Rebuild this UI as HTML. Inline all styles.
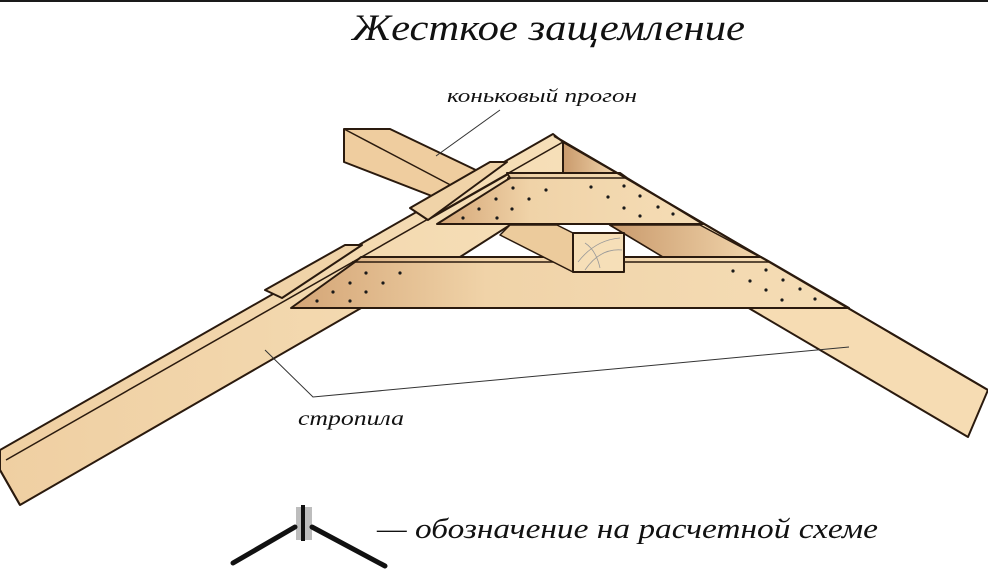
<!DOCTYPE html>
<html><head><meta charset="utf-8"><style>
html,body{margin:0;padding:0;background:#fff;}
svg{display:block;}
text{font-family:"Liberation Serif",serif;font-style:italic;fill:#111;}
</style></head><body>
<svg width="988" height="578" viewBox="0 0 988 578" xmlns="http://www.w3.org/2000/svg">
<defs>
<linearGradient id="w" x1="0" y1="0" x2="1" y2="0">
<stop offset="0" stop-color="#efcfa2"/><stop offset="1" stop-color="#f6dfb8"/></linearGradient>
<linearGradient id="dk" x1="0" y1="0" x2="1" y2="0">
<stop offset="0" stop-color="#d4a576"/><stop offset="0.35" stop-color="#f0d3a8"/><stop offset="1" stop-color="#f5ddb6"/></linearGradient>
<linearGradient id="rs" x1="0" y1="0" x2="1" y2="0">
<stop offset="0" stop-color="#c99a6c"/><stop offset="1" stop-color="#f2d6ad"/></linearGradient>
</defs>
<rect x="0" y="0" width="988" height="2" fill="#1a1a1a"/>
<g stroke="#2a1a0e" stroke-width="2" stroke-linejoin="round">
<!-- purlin upper-left -->
<polygon points="344,129 390,129 480,172 455,205 344,162" fill="#efcd9f"/>
<line x1="344" y1="129" x2="460" y2="190" stroke-width="1.5"/>
<!-- right rafter -->
<polygon points="554,136 988,390 968,437 752,310 610,225 563,173" fill="#f6dcb3"/>
<!-- peak dark triangle -->
<polygon points="563,142 617,173 563,173" fill="url(#rs)"/>
<!-- right rafter dark band between crossbars -->
<polygon points="610,225 700,225 760,257 663,257" fill="url(#rs)" stroke-width="1.5"/>
<!-- left rafter -->
<polygon points="0,450 553,134 563,142 563,173 510,225 460,257 375,300 20,505 0,470" fill="url(#w)"/>
<polyline points="6,460 563,142" fill="none" stroke-width="1.5"/>
<polyline points="0,470 20,505" fill="none"/>
<!-- upper crossbar end tabs -->
<polygon points="410,208 490,162 507,162 428,220" fill="#f0d3a8"/>
<line x1="428" y1="220" x2="507" y2="175" stroke-width="1.5"/>
<!-- upper crossbar -->
<polygon points="507,173 620,173 627,178 703,224 437,224 510,178" fill="url(#dk)"/>
<line x1="507" y1="178" x2="627" y2="178" stroke-width="1.5"/>
<!-- lower crossbar end tab -->
<polygon points="265,290 345,245 362,245 282,298" fill="#f0d3a8"/>
<!-- lower crossbar -->
<polygon points="361,257 761,257 770,262 849,308 291,308 355,262" fill="url(#dk)"/>
<line x1="352" y1="262" x2="770" y2="262" stroke-width="1.5"/>
<!-- purlin between crossbars -->
<polygon points="510,225 557,225 573,233 573,272 500,235" fill="#eccb9c" stroke-width="1.5"/>
<!-- purlin end box -->
<rect x="573" y="233" width="51" height="39" fill="#f6dfb8"/>
<!-- right rafter outer edge redraw -->
<line x1="554" y1="136" x2="988" y2="390"/>
</g>
<g fill="none" stroke="#999" stroke-width="0.8"><path d="M578,262 Q595,240 620,238"/><path d="M585,270 Q600,248 622,250"/><path d="M600,268 Q596,250 585,243"/></g>
<g fill="#1a1a1a">
<circle cx="513" cy="188" r="1.6"/><circle cx="546" cy="190" r="1.6"/><circle cx="591" cy="187" r="1.6"/><circle cx="624" cy="186" r="1.6"/>
<circle cx="496" cy="199" r="1.6"/><circle cx="529" cy="199" r="1.6"/><circle cx="608" cy="197" r="1.6"/><circle cx="640" cy="196" r="1.6"/>
<circle cx="479" cy="209" r="1.6"/><circle cx="512" cy="209" r="1.6"/><circle cx="624" cy="208" r="1.6"/><circle cx="658" cy="207" r="1.6"/>
<circle cx="463" cy="218" r="1.6"/><circle cx="497" cy="218" r="1.6"/><circle cx="640" cy="216" r="1.6"/><circle cx="673" cy="214" r="1.6"/>
<circle cx="366" cy="273" r="1.6"/><circle cx="400" cy="273" r="1.6"/><circle cx="350" cy="283" r="1.6"/><circle cx="383" cy="283" r="1.6"/>
<circle cx="333" cy="292" r="1.6"/><circle cx="366" cy="292" r="1.6"/><circle cx="317" cy="301" r="1.6"/><circle cx="350" cy="301" r="1.6"/>
<circle cx="733" cy="271" r="1.6"/><circle cx="766" cy="270" r="1.6"/><circle cx="750" cy="281" r="1.6"/><circle cx="783" cy="280" r="1.6"/>
<circle cx="766" cy="290" r="1.6"/><circle cx="800" cy="289" r="1.6"/><circle cx="782" cy="300" r="1.6"/><circle cx="815" cy="299" r="1.6"/>
</g>
<g stroke="#333" stroke-width="1" fill="none">
<line x1="500" y1="110" x2="436" y2="156"/>
<polyline points="265,350 313,397 849,347"/>
</g>
<rect x="296" y="507" width="16" height="33" fill="#bdbdbd"/>
<line x1="303" y1="505" x2="303" y2="541" stroke="#111" stroke-width="4"/>
<line x1="295" y1="527" x2="233" y2="563" stroke="#111" stroke-width="5" stroke-linecap="round"/>
<line x1="312" y1="527" x2="385" y2="566" stroke="#111" stroke-width="5" stroke-linecap="round"/>
<text x="352" y="40" font-size="37" textLength="393" lengthAdjust="spacingAndGlyphs">Жесткое защемление</text>
<text x="447" y="102" font-size="19" textLength="190" lengthAdjust="spacingAndGlyphs">коньковый прогон</text>
<text x="298" y="425" font-size="20" textLength="106" lengthAdjust="spacingAndGlyphs">стропила</text>
<text x="377" y="538" font-size="28" textLength="501" lengthAdjust="spacingAndGlyphs">— обозначение на расчетной схеме</text>
</svg>
</body></html>
